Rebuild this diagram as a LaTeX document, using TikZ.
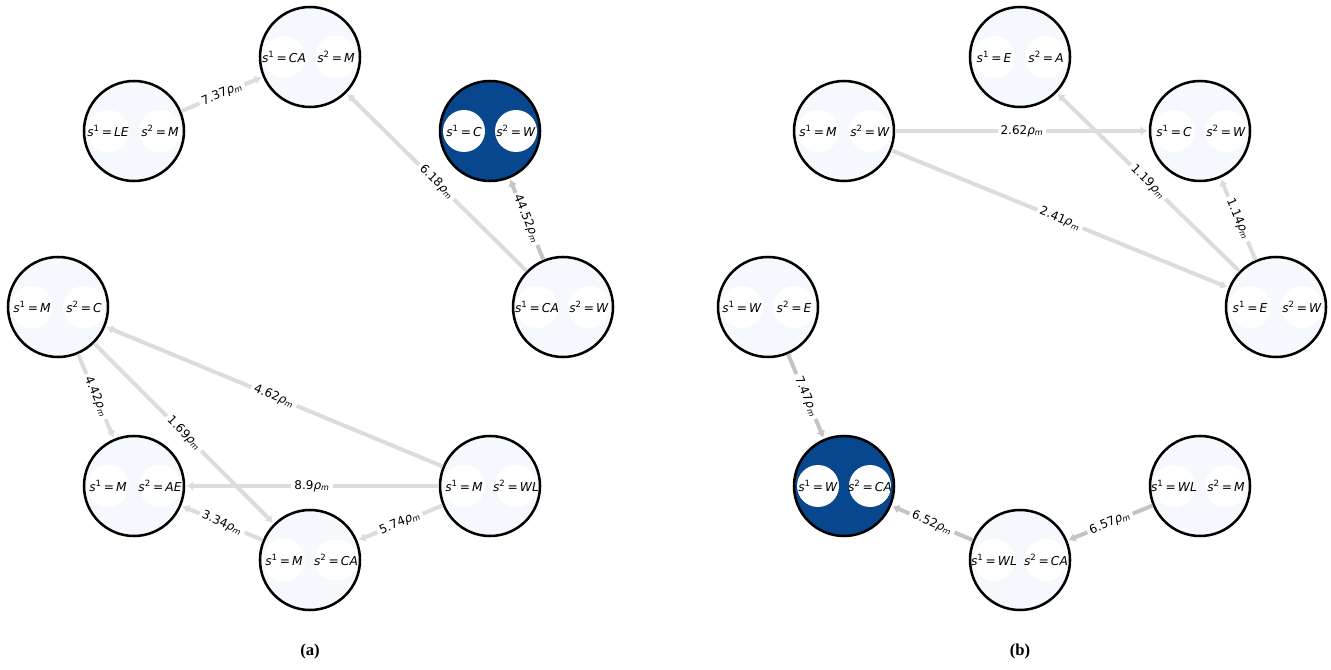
\documentclass[tikz,border=0pt]{standalone}
\usepackage{fontspec}
\setsansfont{DejaVu Sans}
\newfontfamily\capfont{Liberation Serif}
\usepackage{tikz}
\usetikzlibrary{arrows.meta}

\definecolor{nodelight}{HTML}{F5F9FE}
\definecolor{nodedark}{HTML}{08478D}
\definecolor{edgelight}{HTML}{DCDCDC}
\definecolor{edgedark}{HTML}{C4C4C4}

% two state slots inside one node
\newcommand{\stpair}[2]{\makebox[0pt]{%
  \makebox[39pt]{\textit{s}\textsuperscript{1}\,=\,\textit{#1}}%
  \makebox[39pt]{\textit{s}\textsuperscript{2}\,=\,\textit{#2}}}}
\newcommand{\rw}[1]{#1\textit{ρ}\textsubscript{\textit{m}}}

\begin{document}
\begin{tikzpicture}[x=0.75pt, y=-0.75pt, shorten >= 1pt,
	state/.style={circle, draw, line width=1.9pt, minimum size=75pt, inner sep=0pt,
		fill=nodelight, font=\sffamily\fontsize{9.2}{10}\selectfont,
		path picture={\fill[white] (path picture bounding box.center) ++(-19.5pt,0)
			circle (15.75pt) ++(39pt,0) circle (15.75pt);}},
	hot/.style={state, fill=nodedark},
	link/.style={draw=edgelight, line width=3pt, -{Latex[length=5pt,width=7pt]}},
	strong/.style={link, draw=edgedark},
	w/.style={sloped, fill=white, inner sep=2.2pt, text=black,
		font=\sffamily\fontsize{9}{10}\selectfont},
	subcap/.style={font=\capfont\bfseries\fontsize{12.5}{14}\selectfont}]
	\useasboundingbox (0,0) rectangle (1331,670);

	% (a)
	\node[state] (a_le_m) at (134,131) {\stpair{LE}{M}};
	\node[state] (a_ca_m) at (310,57) {\stpair{CA}{M}};
	\node[hot]   (a_c_w) at (490,131) {\stpair{C}{W}};
	\node[state] (a_ca_w) at (563,307) {\stpair{CA}{W}};
	\node[state] (a_m_wl) at (490,486) {\stpair{M}{WL}};
	\node[state] (a_m_ca) at (310,560) {\stpair{M}{CA}};
	\node[state] (a_m_ae) at (134,486) {\stpair{M}{AE}};
	\node[state] (a_m_c) at (58,307) {\stpair{M}{C}};

	\path
	(a_le_m) edge [link] node [w] {\rw{7.37}} (a_ca_m)
	(a_ca_w) edge [link] node [w] {\rw{6.18}} (a_ca_m)
	         edge [strong] node [w] {\rw{44.52}} (a_c_w)
	(a_m_c)  edge [link] node [w] {\rw{4.42}} (a_m_ae)
	         edge [link] node [w] {\rw{1.69}} (a_m_ca)
	(a_m_wl) edge [link] node [w] {\rw{4.62}} (a_m_c)
	         edge [link] node [w] {\rw{8.9}} (a_m_ae)
	         edge [link] node [w] {\rw{5.74}} (a_m_ca)
	(a_m_ca) edge [link] node [w] {\rw{3.34}} (a_m_ae);

	% (b)
	\node[state] (b_m_w) at (844,131) {\stpair{M}{W}};
	\node[state] (b_e_a) at (1020,57) {\stpair{E}{A}};
	\node[state] (b_c_w) at (1200,131) {\stpair{C}{W}};
	\node[state] (b_e_w) at (1276,307) {\stpair{E}{W}};
	\node[state] (b_wl_m) at (1200,486) {\stpair{WL}{M}};
	\node[state] (b_wl_ca) at (1020,560) {\stpair{WL}{CA}};
	\node[hot]   (b_w_ca) at (844,486) {\stpair{W}{CA}};
	\node[state] (b_w_e) at (768,307) {\stpair{W}{E}};

	\path
	(b_m_w)   edge [link] node [w] {\rw{2.62}} (b_c_w)
	          edge [link] node [w] {\rw{2.41}} (b_e_w)
	(b_e_w)   edge [link] node [w] {\rw{1.19}} (b_e_a)
	          edge [link] node [w] {\rw{1.14}} (b_c_w)
	(b_w_e)   edge [strong] node [w] {\rw{7.47}} (b_w_ca)
	(b_wl_ca) edge [strong] node [w] {\rw{6.52}} (b_w_ca)
	(b_wl_m)  edge [strong] node [w] {\rw{6.57}} (b_wl_ca);

	\node[subcap] (cap_a) at (310,651) {(a)};
	\node[subcap] (cap_b) at (1020,651) {(b)};
\end{tikzpicture}
\end{document}
